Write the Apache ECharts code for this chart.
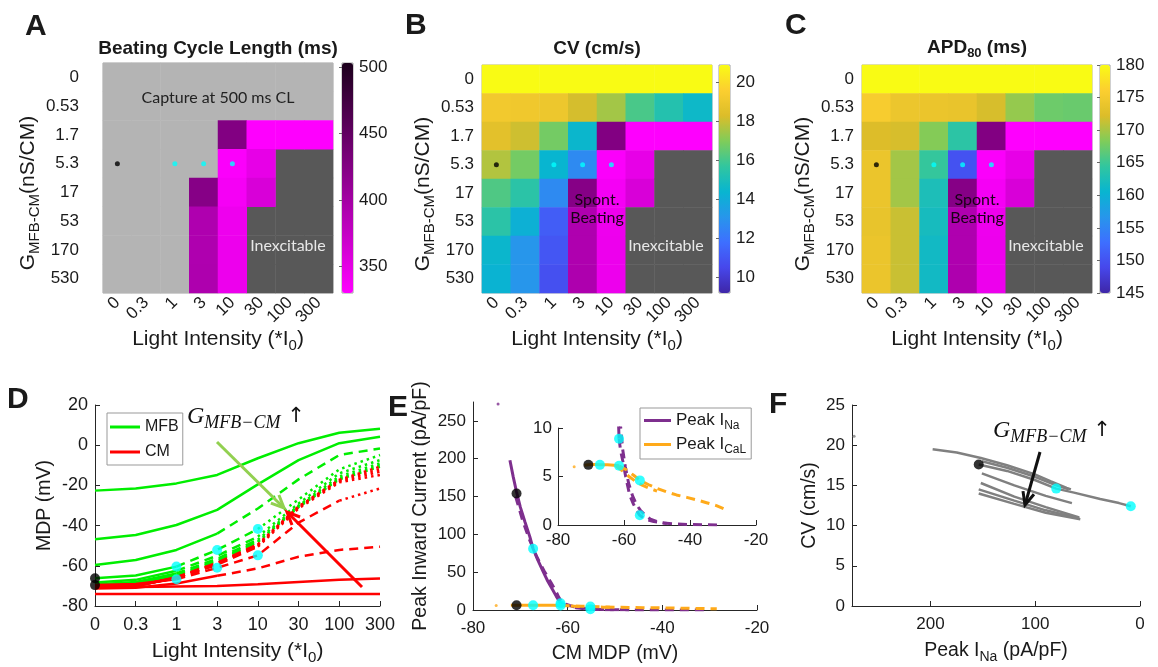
<!DOCTYPE html>
<html><head><meta charset="utf-8">
<script src="https://cdn.jsdelivr.net/npm/echarts@6/dist/echarts.min.js"></script>
<style>html,body{margin:0;padding:0;background:#fff}#c{width:1158px;height:667px}</style>
</head><body><div id="c"></div>
<script>
// ---------------- DATA ----------------
const intensities = ['0','0.3','1','3','10','30','100','300'];
const conductances = ['0','0.53','1.7','5.3','17','53','170','530'];
// c = capture at 500 ms CL, s = spontaneous beating, x = inexcitable
const cellStatus = ['cccccccc','cccccccc','ccccssss','ccccssxx','cccsssxx','cccssxxx','cccssxxx','cccssxxx'];
const N = null;
const cycleLength = [
 [N,N,N,N,N,N,N,N],
 [N,N,N,N,N,N,N,N],
 [N,N,N,N,425,331,331,331],
 [N,N,N,N,333,348,N,N],
 [N,N,N,422,338,360,N,N],
 [N,N,N,391,343,N,N,N],
 [N,N,N,391,344,N,N,N],
 [N,N,N,392,344,N,N,N]];
const cvValues = [
 [20.9,20.9,20.9,20.9,20.9,20.9,20.9,20.9],
 [19.2,19.1,19.0,18.2,17.5,16.1,15.3,14.6],
 [18.6,18.1,16.8,14.5,N,N,N,N],
 [17.7,16.8,14.4,12.7,N,N,N,N],
 [16.2,15.5,12.7,N,N,N,N,N],
 [15.5,14.2,11.2,N,N,N,N,N],
 [14.5,13.1,11.0,N,N,N,N,N],
 [14.3,13.1,10.8,N,N,N,N,N]];
const apdValues = [
 [180,180,180,180,180,180,180,180],
 [175.5,174.2,174.0,173.8,172.0,169.2,167.4,167.2],
 [172.3,172.0,168.5,164.0,N,N,N,N],
 [174.0,169.8,164.6,150.0,N,N,N,N],
 [174.0,169.8,162.5,N,N,N,N,N],
 [173.7,171.4,162.0,N,N,N,N,N],
 [174.0,171.4,161.5,N,N,N,N,N],
 [174.0,171.4,161.5,N,N,N,N,N]];
const markerRow = '5.3';
const blackCols = ['0'];
const cyanCols = ['1','3','10'];

// Panel D: MDP (mV) per conductance, over the 8 light intensities
const mfbMDP = {
 '0':   [-22.6,-21.5,-19.0,-14.8,-6.5,1.0,6.2,8.2],
 '0.53':[-46.8,-44.7,-39.7,-32.2,-19.5,-7.4,1.0,4.2],
 '1.7': [-59.6,-57.1,-52.1,-44.0,-31.5,-17.0,-4.9,-1.6],
 '5.3': [-66.2,-64.8,-60.4,-52.1,-41.7,-27.0,-12.0,-4.9],
 '17':  [-68.3,-67.0,-62.5,-55.0,-45.5,-29.0,-14.0,-7.4],
 '53':  [-69.3,-68.0,-63.8,-56.5,-47.0,-30.0,-15.5,-9.0],
 '170': [-69.8,-68.6,-64.5,-57.3,-47.8,-30.5,-16.5,-10.0],
 '530': [-70.0,-68.9,-65.0,-57.8,-48.2,-30.8,-17.0,-10.7]};
const cmMDP = {
 '0':   [-74.0,-74.0,-74.0,-74.0,-74.0,-74.0,-74.0,-74.0],
 '0.53':[-70.8,-70.6,-70.3,-70.0,-69.2,-68.0,-67.0,-66.3],
 '1.7': [-71.3,-70.9,-68.8,-65.0,-61.3,-55.5,-52.1,-50.5],
 '5.3': [-69.6,-69.0,-66.7,-61.0,-54.8,-38.5,-27.6,-21.5],
 '17':  [-70.5,-69.8,-66.2,-59.5,-50.5,-31.5,-18.5,-14.8],
 '53':  [-70.6,-70.0,-66.0,-59.0,-50.0,-31.0,-18.0,-13.2],
 '170': [-70.7,-70.1,-65.8,-58.7,-49.6,-30.7,-17.5,-12.0],
 '530': [-70.8,-70.2,-65.7,-58.5,-49.3,-30.5,-17.2,-10.7]};
const mdpMarkerIdx = [0,2,3,4];   // intensities 0, 1, 3, 10

// Panel E: [CM MDP (mV), peak current (pA/pF)]
const naSolid = [[-72.2,198],[-71.5,176],[-70.8,156],[-70,136],[-69,116],[-68,97],[-67.3,81],[-66.3,66],[-65.2,51],[-64.2,38],[-63.2,27],[-62.4,18],[-61.8,12],[-61.5,8.9]];
const naDash1 = [[-61.5,8.9],[-61.0,7.6],[-60.3,6.5],[-59.5,5.0],[-58.3,3.1],[-57.2,2.2],[-56.2,1.5],[-55.2,1.0],[-53.5,0.6],[-51,0.35],[-48,0.2],[-44,0.1],[-40,0.05],[-35,0.02],[-30.5,0]];
const naDash2 = [[-71,150],[-69.5,118],[-68,92],[-66.5,70],[-65,52],[-63.5,36],[-62.5,25],[-61.9,17],[-61.4,12],[-61,10],[-60.4,7.8],[-59.6,6],[-58.6,4.3],[-57.4,3.0],[-56.2,2.1],[-55,1.5],[-53.5,1.0],[-52,0.6],[-50,0.35],[-47,0.15]];
const caSolid = [[-72,6.15],[-70.8,6.2],[-69,6.25],[-67.3,6.2],[-65,6.2],[-63,6.15],[-61.5,6.1]];
const caDash1 = [[-61.5,6.1],[-59.3,5.7],[-57,5.1],[-55.2,4.6],[-52.5,4.15],[-50.2,3.8],[-47,3.4],[-44.1,3.1],[-41,2.85],[-38.1,2.6],[-35,2.3],[-32,2.0],[-28.5,1.5]];
const caDash2 = [[-62.5,6.1],[-60.5,5.6],[-58.5,5.0],[-56.5,4.5],[-54.5,4.1],[-52.5,3.8],[-50,3.5]];
const naStray = [[-74.7,272.5]];
const caStray = [[-75.1,6.0]];
const eMarkerMDP = [-70.8,-67.3,-61.5,-55.2];
const eMarkerNa = [154,81,8.9,1.0];
const eMarkerCa = [6.2,6.2,6.1,4.6];

// Panel F: [peak INa (pA/pF), CV (cm/s)]
const cvLines = [
 [[198,19.5],[175,19.1],[152,18.4],[127,17.5],[101,16.4],[85,15.5],[70,14.7],[66,14.5]],
 [[154,17.6],[127,16.8],[101,15.7],[80,14.6],[63,14.1],[38,13.3],[20,12.8],[8.8,12.4]],
 [[151,18.0],[127,17.2],[101,16.1],[80,15.0],[68,14.5]],
 [[151,16.5],[120,15.0],[90,13.7],[65,12.8]],
 [[152,15.3],[120,13.6],[90,12.3],[58,11.0]],
 [[154,14.5],[120,13.1],[90,11.9],[58,10.9]],
 [[154,14.0],[120,12.7],[90,11.6],[57,10.8]]];
const cvStray = [[273,21.1]];
const fMarkers = [[154,17.6],[80,14.6],[8.8,12.4]];

// ---------------- STYLE ----------------
const FONT = 'Liberation Sans';
const TXT = '#1a1a1a';
const PARULA = ['#3e26a8','#4747eb','#3e6fff','#2796eb','#08b5d0','#31c69f','#80cc59','#dcbd29','#fccf30','#f9fb14'];
const MAGENTA = ['#ff00ff','#1c001c'];
const GREEN = '#00ee00', RED = '#ff0000', PURPLE = '#7e2f8e', ORANGE = '#ffaa1a', GRAY = '#808080';
const DASH = [9,6], DOT = [2.5,4];
// line style segments in panel D: [type, fromIdx, toIdx]
const segMFB = {'0':[['s',0,7]], '0.53':[['s',0,7]], '1.7':[['s',0,3],['d',3,7]], '5.3':[['s',0,2],['d',2,4],['o',4,7]],
  '17':[['s',0,2],['d',2,4],['o',4,7]], '53':[['s',0,2],['d',2,4],['o',4,7]], '170':[['s',0,2],['d',2,4],['o',4,7]], '530':[['s',0,2],['d',2,4],['o',4,7]]};
const segCM = {'0':[['s',0,7]], '0.53':[['s',0,7]], '1.7':[['s',0,3],['d',3,7]], '5.3':[['s',0,2],['d',2,6],['o',6,7]],
  '17':[['s',0,2],['d',2,4],['o',4,7]], '53':[['s',0,2],['d',2,4],['o',4,7]], '170':[['s',0,2],['d',2,4],['o',4,7]], '530':[['s',0,2],['d',2,4],['o',4,7]]};
const dashOf = t => t==='s' ? 'solid' : (t==='d' ? DASH : DOT);

function rich(size){ return {
  n:{fontSize:size, fontFamily:FONT, color:TXT},
  s:{fontSize:Math.round(size*0.72), fontFamily:FONT, color:TXT, padding:[Math.round(size*0.62),0,0,0]}}; }

// ---------------- BUILD ----------------
const series = [];
const add = s => (series.push(s), series.length-1);

function cells(matrix){ const out=[]; matrix.forEach((row,r)=>row.forEach((v,c)=>{ if(v!==null) out.push([c,r,v]); })); return out; }
function statusCells(codes){ const out=[]; cellStatus.forEach((row,r)=>[...row].forEach((ch,c)=>{ if(codes.includes(ch)) out.push([c,r, ch==='c'?0:1]); })); return out; }
const hm = (gi,data) => ({type:'heatmap', xAxisIndex:gi, yAxisIndex:gi, data, silent:true, emphasis:{disabled:true}, progressive:0});
function heatDots(gi){
  const r = conductances.indexOf(markerRow);
  add({type:'scatter', xAxisIndex:gi, yAxisIndex:gi, silent:true, z:5, symbolSize:5, itemStyle:{color:'#000'},
       data: blackCols.map(c=>[intensities.indexOf(c), r])});
  add({type:'scatter', xAxisIndex:gi, yAxisIndex:gi, silent:true, z:5, symbolSize:5, itemStyle:{color:'#00ffff'},
       data: cyanCols.map(c=>[intensities.indexOf(c), r])});
}
const sAstatus = add(hm(0, statusCells('cx')));
const sAspont = add(hm(0, cells(cycleLength)));
heatDots(0);
const sBval = add(hm(1, cells(cvValues)));
const sBspont = add(hm(1, cells(cycleLength)));
const sBinex = add(hm(1, statusCells('x')));
heatDots(1);
const sCval = add(hm(2, cells(apdValues)));
const sCspont = add(hm(2, cells(cycleLength)));
const sCinex = add(hm(2, statusCells('x')));
heatDots(2);

function mdpLines(table, segs, name, color, z){
  conductances.forEach(g=>{
    const vals = table[g];
    segs[g].forEach(([t,a,b])=>{
      add({type:'line', name, xAxisIndex:3, yAxisIndex:3, z, silent:true, symbol:'none', showSymbol:false,
           itemStyle:{color}, lineStyle:{color, width:2.5, type:dashOf(t)},
           data: vals.slice(a,b+1).map((v,k)=>[a+k,v])});
    });
  });
}
mdpLines(mfbMDP, segMFB, 'MFB', GREEN, 2);
mdpLines(cmMDP, segCM, 'CM', RED, 3);
[mfbMDP, cmMDP].forEach(tab=>{
  add({type:'scatter', xAxisIndex:3, yAxisIndex:3, silent:true, z:6, symbolSize:10, itemStyle:{color:'#000'},
       data: mdpMarkerIdx.slice(0,1).map(i=>[i, tab[markerRow][i]])});
  add({type:'scatter', xAxisIndex:3, yAxisIndex:3, silent:true, z:6, symbolSize:10, itemStyle:{color:'#00ffff'},
       data: mdpMarkerIdx.slice(1).map(i=>[i, tab[markerRow][i]])});
});

function eLine(ax, name, color, data, type){
  add({type:'line', name, xAxisIndex:ax, yAxisIndex:ax, z:3, silent:true, symbol:'none', showSymbol:false,
       itemStyle:{color}, lineStyle:{color, width:3, type}, data});
}
[4,5].forEach(ax=>{
  eLine(ax,'Peak INa',PURPLE,naSolid,'solid');
  eLine(ax,'Peak INa',PURPLE,naDash1,DASH);
  eLine(ax,'Peak INa',PURPLE,naDash2,DASH);
  eLine(ax,'Peak ICaL',ORANGE,caSolid,'solid');
  eLine(ax,'Peak ICaL',ORANGE,caDash1,DASH);
  eLine(ax,'Peak ICaL',ORANGE,caDash2,DASH);
  add({type:'scatter', xAxisIndex:ax, yAxisIndex:ax, silent:true, z:4, symbolSize:3, itemStyle:{color:PURPLE}, data:naStray});
  add({type:'scatter', xAxisIndex:ax, yAxisIndex:ax, silent:true, z:4, symbolSize:3, itemStyle:{color:ORANGE}, data:caStray});
  [eMarkerNa, eMarkerCa].forEach(arr=>{
    add({type:'scatter', xAxisIndex:ax, yAxisIndex:ax, silent:true, z:6, symbolSize:10, itemStyle:{color:'#000'},
         data:[[eMarkerMDP[0], arr[0]]]});
    add({type:'scatter', xAxisIndex:ax, yAxisIndex:ax, silent:true, z:6, symbolSize:10, itemStyle:{color:'#00ffff'},
         data: eMarkerMDP.slice(1).map((m,k)=>[m, arr[k+1]])});
  });
});

cvLines.forEach(l=>add({type:'line', xAxisIndex:6, yAxisIndex:6, z:3, silent:true, symbol:'none', showSymbol:false,
  itemStyle:{color:GRAY}, lineStyle:{color:GRAY, width:2.5}, data:l}));
add({type:'scatter', xAxisIndex:6, yAxisIndex:6, silent:true, z:4, symbolSize:3, itemStyle:{color:GRAY}, data:cvStray});
add({type:'scatter', xAxisIndex:6, yAxisIndex:6, silent:true, z:6, symbolSize:10, itemStyle:{color:'#000'}, data:fMarkers.slice(0,1)});
add({type:'scatter', xAxisIndex:6, yAxisIndex:6, silent:true, z:6, symbolSize:10, itemStyle:{color:'#00ffff'}, data:fMarkers.slice(1)});

// ---------------- AXES ----------------
const grids = [
 {left:103, top:63, width:230, height:230, show:true, borderColor:'#b0b0b0', borderWidth:1},
 {left:482, top:65, width:230, height:228, show:true, borderColor:'#b0b0b0', borderWidth:1},
 {left:862, top:65, width:230, height:228, show:true, borderColor:'#b0b0b0', borderWidth:1},
 {left:95, top:405, width:285, height:201},
 {left:473, top:402, width:284, height:208},
 {left:558, top:428, width:198, height:97},
 {left:852, top:405, width:288, height:201},
 {left:342, top:63, width:11, height:230, show:true, borderColor:'#a0a0a0', borderWidth:1},
 {left:719, top:65, width:11, height:228, show:true, borderColor:'#a0a0a0', borderWidth:1},
 {left:1100, top:65, width:10, height:228, show:true, borderColor:'#a0a0a0', borderWidth:1}];

const xName = '{n|Light Intensity (*I}{s|0}{n|)}';
const gName = '{n|G}{s|MFB-CM}{n|(nS/CM)}';
function heatX(gi){ return {type:'category', gridIndex:gi, data:intensities,
  axisLine:{show:false}, axisTick:{show:true, inside:true, alignWithLabel:true, length:4, lineStyle:{color:'#666'}},
  axisLabel:{rotate:45, fontSize:17, color:TXT, fontFamily:FONT, margin:7, interval:0}, splitLine:{show:false},
  name:xName, nameLocation:'middle', nameGap:24, nameTextStyle:{rich:rich(21)}}; }
function heatY(gi, margin, gap){ return {type:'category', gridIndex:gi, data:conductances, inverse:true,
  axisLine:{show:false}, axisTick:{show:true, inside:true, alignWithLabel:true, length:4, lineStyle:{color:'#666'}},
  axisLabel:{fontSize:17, color:TXT, fontFamily:FONT, margin, interval:0}, splitLine:{show:false},
  name:gName, nameLocation:'middle', nameGap:gap, nameRotate:90, nameTextStyle:{rich:rich(21), padding:[0,30,0,0]}}; }
function mX(gi, o){ return Object.assign({type:'value', gridIndex:gi,
  axisLine:{show:true, onZero:false, lineStyle:{color:'#262626'}}, axisTick:{show:true, inside:true, length:5, lineStyle:{color:'#262626'}},
  splitLine:{show:false}, nameLocation:'middle', nameTextStyle:{rich:rich(19.5)}}, o); }
const lab = o => Object.assign({fontSize:17, color:TXT, fontFamily:FONT}, o);
function cbY(gi, min, max, vals){ return {type:'value', gridIndex:gi, position:'right', min, max,
  axisLine:{show:false}, splitLine:{show:false},
  axisTick:{show:true, inside:true, length:3, customValues:vals, lineStyle:{color:'#666'}},
  axisLabel:{fontSize:17, color:TXT, fontFamily:FONT, margin:6, customValues:vals}}; }

const xAxes = [heatX(0), heatX(1), heatX(2),
  mX(3,{min:0,max:7,interval:1, axisLabel:lab({fontSize:18, margin:10, formatter:v=>intensities[v]}), name:xName, nameGap:31, nameTextStyle:{rich:rich(21)}}),
  mX(4,{min:-80,max:-20,interval:20, axisLabel:lab({margin:10}), name:'{n|CM MDP (mV)}', nameGap:34}),
  mX(5,{min:-80,max:-20,interval:20, axisLabel:lab({margin:7})}),
  mX(6,{min:0,max:275,interval:100,inverse:true, axisLabel:lab({margin:10, showMaxLabel:false}), name:'{n|Peak I}{s|Na}{n| (pA/pF)}', nameGap:32}),
  {type:'value', gridIndex:7, show:false}, {type:'value', gridIndex:8, show:false}, {type:'value', gridIndex:9, show:false}];
const yAxes = [heatY(0,24,47), heatY(1,8,44), heatY(2,8,44),
  mX(3,{min:-80,max:20,interval:20, axisLabel:lab({fontSize:18, margin:7}), name:'{n|MDP (mV)}', nameGap:40}),
  mX(4,{min:0,max:275,interval:50, axisLabel:lab({margin:7, showMaxLabel:false}), name:'{n|Peak Inward Current (pA/pF)}', nameGap:42}),
  mX(5,{min:0,max:10,interval:5, axisLabel:lab({margin:6})}),
  mX(6,{min:0,max:25,interval:5, axisLabel:lab({margin:7}), name:'{n|CV (cm/s)}', nameGap:32}),
  cbY(7,330,503,[350,400,450,500]), cbY(8,9.2,20.9,[10,12,14,16,18,20]), cbY(9,145,180,[145,150,155,160,165,170,175,180])];

const visualMap = [
 {type:'continuous', min:330, max:503, seriesIndex:[sAspont,sBspont,sCspont], inRange:{color:MAGENTA},
  left:342, top:63, itemWidth:11, itemHeight:230, calculable:false, padding:0, hoverLink:false},
 {type:'continuous', min:9.2, max:20.9, seriesIndex:[sBval], inRange:{color:PARULA},
  left:719, top:65, itemWidth:11, itemHeight:228, calculable:false, padding:0, hoverLink:false},
 {type:'continuous', min:145, max:180, seriesIndex:[sCval], inRange:{color:PARULA},
  left:1100, top:65, itemWidth:10, itemHeight:228, calculable:false, padding:0, hoverLink:false},
 {type:'piecewise', show:false, seriesIndex:[sAstatus,sBinex,sCinex], dimension:2,
  pieces:[{value:0, color:'#b4b4b4'},{value:1, color:'#585858'}]}];

const legend = [
 {data:['MFB','CM'], left:107, top:413, orient:'vertical', icon:'rect', itemWidth:30, itemHeight:3, itemGap:9,
  padding:[6,4,5,3], borderColor:'#999', borderWidth:1, backgroundColor:'#fff', selectedMode:false,
  textStyle:{fontSize:16, fontFamily:FONT, color:TXT}},
 {data:['Peak INa','Peak ICaL'], left:640, top:408, orient:'vertical', icon:'rect', itemWidth:27, itemHeight:3, itemGap:4,
  padding:[4,5,3,4], borderColor:'#999', borderWidth:1, backgroundColor:'#fff', selectedMode:false,
  formatter: n => n==='Peak INa' ? '{n|Peak I}{s|Na}' : '{n|Peak I}{s|CaL}',
  textStyle:{fontSize:17, rich:rich(17)}}];

// ---------------- ANNOTATIONS ----------------
const graphic = [];
function text(x,y,t,style){ graphic.push({type:'text', x, y, z:100, silent:true,
  style:Object.assign({text:t, fill:TXT, fontFamily:FONT, fontSize:17, align:'center', verticalAlign:'middle'}, style)}); }
[['A',25,27],['B',405,26],['C',785,26],['D',7,400],['E',388,408],['F',769,405]].forEach(([t,x,y])=>
  text(x,y,t,{fontSize:30, fontWeight:'bold', align:'left'}));
text(218,49,'Beating Cycle Length (ms)',{fontWeight:'bold', fontSize:19});
text(597,49,'CV (cm/s)',{fontWeight:'bold', fontSize:19});
text(977,48,'{b|APD}{bs|80}{b| (ms)}',{rich:{b:{fontWeight:'bold',fontSize:19,fontFamily:FONT,fill:TXT},
  bs:{fontWeight:'bold',fontSize:13,fontFamily:FONT,fill:TXT,padding:[11,0,0,0]}}});
const CAL = 'Lato';
text(218,98,'Capture at 500 ms CL',{fontFamily:CAL, fontSize:16, fill:'#222'});
text(288,246,'Inexcitable',{fontFamily:CAL, fontSize:16, fill:'#e8e8e8'});
text(666,246,'Inexcitable',{fontFamily:CAL, fontSize:16, fill:'#e8e8e8'});
text(1046,246,'Inexcitable',{fontFamily:CAL, fontSize:16, fill:'#e8e8e8'});
text(597,200,'Spont.',{fontFamily:CAL, fontSize:16, fill:'#1a0018'});
text(597,218,'Beating',{fontFamily:CAL, fontSize:16, fill:'#1a0018'});
text(977,200,'Spont.',{fontFamily:CAL, fontSize:16, fill:'#1a0018'});
text(977,218,'Beating',{fontFamily:CAL, fontSize:16, fill:'#1a0018'});
const gRich = {g:{fontFamily:'Liberation Serif', fontStyle:'italic', fontSize:24, fill:'#111'},
  sub:{fontFamily:'Liberation Serif', fontStyle:'italic', fontSize:18, fill:'#111', padding:[12,0,0,0]},
  ar:{fontFamily:'DejaVu Sans', fontSize:21, fill:'#111'}};
text(187,417,'{g|G}{sub|MFB\u2212CM}{ar| \u2191}',{align:'left', rich:gRich});
text(993,431,'{g|G}{sub|MFB\u2212CM}{ar| \u2191}',{align:'left', rich:gRich});
function arrow(x1,y1,x2,y2,color){
  const a = Math.atan2(y2-y1,x2-x1), L=14, w=0.42;
  graphic.push({type:'line', z:90, silent:true, shape:{x1,y1,x2,y2}, style:{stroke:color, lineWidth:3}});
  graphic.push({type:'polyline', z:90, silent:true, shape:{points:[[x2-L*Math.cos(a-w),y2-L*Math.sin(a-w)],[x2,y2],[x2-L*Math.cos(a+w),y2-L*Math.sin(a+w)]]},
    style:{stroke:color, lineWidth:3, fill:null}});
}
arrow(217,442,284,508,'#92d050');
arrow(362,587,287,512,'#ff0000');
arrow(1040,452,1025,505,'#111');

const chart = echarts.init(document.getElementById('c'), null, {renderer:'canvas'});
chart.setOption({animation:false, backgroundColor:'#fff', grid:grids, xAxis:xAxes, yAxis:yAxes,
  visualMap, legend, series, graphic});
</script></body></html>
